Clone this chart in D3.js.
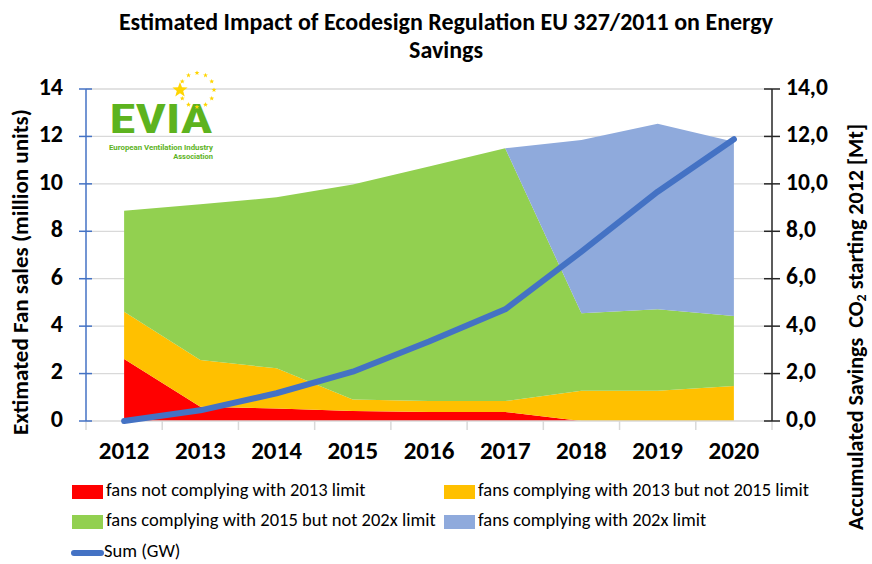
<!DOCTYPE html>
<html>
<head>
<meta charset="utf-8">
<script src="https://cdn.jsdelivr.net/npm/d3@7"></script>
<style>
  html, body { margin: 0; padding: 0; background: #fff; }
  svg { display: block; font-family: Carlito, Calibri, Lato, sans-serif; }
</style>
</head>
<body>
<svg id="chart" width="872" height="564"></svg>
<script>
// ---------- data ----------
const years = ["2012", "2013", "2014", "2015", "2016", "2017", "2018", "2019", "2020"];
const notComplying2013 = [2.61, 0.60, 0.53, 0.42, 0.38, 0.38, 0.00, 0.00, 0.00];
const complying2013Not2015 = [2.00, 1.97, 1.69, 0.49, 0.46, 0.46, 1.28, 1.28, 1.48];
const complying2015Not202x = [4.26, 6.57, 7.21, 9.06, 9.89, 10.66, 3.26, 3.43, 2.95];
const complying202x = [0.00, 0.00, 0.00, 0.00, 0.00, 0.00, 7.31, 7.82, 7.35];
const sumGW = [0.00, 0.45, 1.17, 2.08, 3.35, 4.71, 7.14, 9.67, 11.88];
const leftTicks = [0, 2, 4, 6, 8, 10, 12, 14];
const rightTicks = [0, 2, 4, 6, 8, 10, 12, 14];

const seriesNames = [
  "fans not complying with 2013 limit",
  "fans complying with 2013 but not 2015 limit",
  "fans complying with 2015 but not 202x limit",
  "fans complying with 202x limit"
];
const seriesColors = ["#FF0000", "#FFC000", "#92D050", "#8FAADC"];
const lineName = "Sum (GW)";
const lineColor = "#4472C4";

// ---------- layout ----------
const svg = d3.select("#chart");
const L = 86, R = 772, T = 89, B = 421;

const x = d3.scaleBand().domain(years).range([L, R]).padding(0);
const cx = d => x(d) + x.bandwidth() / 2;
const y = d3.scaleLinear().domain([0, 14]).range([B, T]);
const yR = d3.scaleLinear().domain([0, 14]).range([B, T]);

// gridlines
svg.append("g").selectAll("line").data(leftTicks.filter(t => t > 0)).join("line")
  .attr("x1", L).attr("x2", R)
  .attr("y1", d => y(d)).attr("y2", d => y(d))
  .attr("stroke", "#D9D9D9").attr("stroke-width", 1.3);

// stacked areas
const table = years.map((yr, i) => ({
  year: yr,
  s0: notComplying2013[i], s1: complying2013Not2015[i],
  s2: complying2015Not202x[i], s3: complying202x[i]
}));
const stack = d3.stack().keys(["s0", "s1", "s2", "s3"]);
const stacked = stack(table);
const area = d3.area()
  .x(d => cx(d.data.year))
  .y0(d => y(d[0]))
  .y1(d => y(d[1]));
svg.append("g").selectAll("path").data(stacked).join("path")
  .attr("d", area)
  .attr("fill", (d, i) => seriesColors[i]);

// x axis
const xAxis = svg.append("g").attr("transform", `translate(0,${B})`);
xAxis.append("line").attr("x1", L).attr("x2", R).attr("stroke", "#D9D9D9").attr("stroke-width", 1.5);
const boundaries = years.map(d => x(d)).concat([R]);
xAxis.selectAll("line.tk").data(boundaries).join("line").attr("class", "tk")
  .attr("x1", d => d).attr("x2", d => d).attr("y1", 0).attr("y2", 9)
  .attr("stroke", "#D9D9D9").attr("stroke-width", 1.5);
xAxis.selectAll("text").data(years).join("text")
  .attr("x", d => cx(d)).attr("y", 32)
  .attr("text-anchor", "middle").attr("dominant-baseline", "middle")
  .attr("font-weight", "bold").attr("font-size", 25).attr("fill", "#000")
  .text(d => d);

// left axis (blue)
const lAx = svg.append("g");
lAx.append("line").attr("x1", L).attr("x2", L).attr("y1", T).attr("y2", B)
  .attr("stroke", "#4472C4").attr("stroke-width", 1.5);
lAx.selectAll("line.tk").data(leftTicks).join("line").attr("class", "tk")
  .attr("x1", L - 7).attr("x2", L + 6).attr("y1", d => y(d)).attr("y2", d => y(d))
  .attr("stroke", "#4472C4").attr("stroke-width", 1.5);
lAx.selectAll("text").data(leftTicks).join("text")
  .attr("x", 63).attr("y", d => y(d))
  .attr("text-anchor", "end").attr("dominant-baseline", "middle")
  .attr("font-weight", "bold").attr("font-size", 24).attr("fill", "#000")
  .text(d => d3.format("d")(d));

// right axis
const rAx = svg.append("g");
rAx.append("line").attr("x1", R).attr("x2", R).attr("y1", T).attr("y2", B)
  .attr("stroke", "#262626").attr("stroke-width", 1.5);
rAx.selectAll("line.tk").data(rightTicks).join("line").attr("class", "tk")
  .attr("x1", R - 8).attr("x2", R + 8).attr("y1", d => yR(d)).attr("y2", d => yR(d))
  .attr("stroke", "#262626").attr("stroke-width", 1.5);
rAx.selectAll("text").data(rightTicks).join("text")
  .attr("x", 786).attr("y", d => yR(d))
  .attr("text-anchor", "start").attr("dominant-baseline", "middle")
  .attr("font-weight", "bold").attr("font-size", 23.5).attr("fill", "#000")
  .text(d => d3.format(".1f")(d).replace(".", ","));

// line series
const line = d3.line().x((d, i) => cx(years[i])).y(d => yR(d));
svg.append("path").datum(sumGW)
  .attr("d", line).attr("fill", "none")
  .attr("stroke", lineColor).attr("stroke-width", 6)
  .attr("stroke-linecap", "round").attr("stroke-linejoin", "round");

// title
const title = svg.append("text").attr("text-anchor", "middle")
  .attr("font-weight", "bold").attr("font-size", 24).attr("fill", "#000");
title.append("tspan").attr("x", 446).attr("y", 30)
  .text("Estimated Impact of Ecodesign Regulation EU 327/2011 on Energy");
title.append("tspan").attr("x", 446).attr("y", 58).text("Savings");

// axis titles
svg.append("text")
  .attr("transform", "translate(22,272) rotate(-90)")
  .attr("text-anchor", "middle").attr("dominant-baseline", "middle")
  .attr("font-weight", "bold").attr("font-size", 23).attr("fill", "#000")
  .text("Extimated Fan sales (million units)");

const rt = svg.append("text")
  .attr("transform", "translate(858,327) rotate(-90)")
  .attr("text-anchor", "middle").attr("dominant-baseline", "middle")
  .attr("font-weight", "bold").attr("font-size", 22).attr("fill", "#000")
  .attr("xml:space", "preserve");
rt.append("tspan").text("Accumulated Savings  CO");
rt.append("tspan").attr("font-size", 14).attr("dy", 5).text("2");
rt.append("tspan").attr("dy", -5).text(" starting 2012 [Mt]");

// legend
const legendItems = [
  { name: seriesNames[0], color: seriesColors[0], lx: 72, ly: 492 },
  { name: seriesNames[1], color: seriesColors[1], lx: 444, ly: 492 },
  { name: seriesNames[2], color: seriesColors[2], lx: 72, ly: 522 },
  { name: seriesNames[3], color: seriesColors[3], lx: 444, ly: 522 }
];
const lg = svg.append("g");
const li = lg.selectAll("g").data(legendItems).join("g")
  .attr("transform", d => `translate(${d.lx},${d.ly})`);
li.append("rect").attr("x", 0).attr("y", -7).attr("width", 31).attr("height", 14)
  .attr("fill", d => d.color);
li.append("text").attr("x", 34).attr("y", 0).attr("dominant-baseline", "middle")
  .attr("font-size", 18.5).attr("fill", "#000").text(d => d.name);
const ll = lg.append("g").attr("transform", "translate(72,553)");
ll.append("line").attr("x1", 2).attr("x2", 29).attr("stroke", lineColor)
  .attr("stroke-width", 6).attr("stroke-linecap", "round");
ll.append("text").attr("x", 32).attr("y", 0).attr("dominant-baseline", "middle")
  .attr("font-size", 18.5).attr("fill", "#000").text(lineName);

// EVIA logo
const logo = svg.append("g");
const green = "#5DB31E";
logo.append("text")
  .attr("font-family", "'Liberation Sans Narrow', 'Roboto Condensed', Roboto, sans-serif")
  .attr("font-weight", "bold").attr("fill", green)
  .attr("x", 161).attr("y", 133).attr("text-anchor", "middle")
  .attr("font-size", 41)
  .attr("textLength", 103).attr("lengthAdjust", "spacingAndGlyphs")
  .text("EVIA");
const sub = logo.append("text")
  .attr("font-family", "'Liberation Sans Narrow', Roboto, sans-serif")
  .attr("font-weight", "bold").attr("fill", green).attr("font-size", 7.5)
  .attr("text-anchor", "end");
sub.append("tspan").attr("x", 213).attr("y", 150)
  .attr("textLength", 104).attr("lengthAdjust", "spacingAndGlyphs")
  .text("European Ventilation Industry");
sub.append("tspan").attr("x", 213).attr("y", 158.5).text("Association");
const star = (r) => {
  const pts = [];
  for (let k = 0; k < 10; k++) {
    const a = -Math.PI / 2 + k * Math.PI / 5;
    const rr = k % 2 === 0 ? r : r * 0.42;
    pts.push([rr * Math.cos(a), rr * Math.sin(a)]);
  }
  return "M" + pts.map(p => p.join(",")).join("L") + "Z";
};
const starPos = d3.range(12).map(k => k * 30);
logo.selectAll("path.st").data(starPos).join("path").attr("class", "st")
  .attr("transform", a => {
    const rad = (a - 90) * Math.PI / 180;
    return `translate(${197 + 17 * Math.cos(rad)},${90 + 17 * Math.sin(rad)})`;
  })
  .attr("d", a => a === 270 ? star(8) : star(2.6))
  .attr("fill", "#FFD500");
</script>
</body>
</html>
